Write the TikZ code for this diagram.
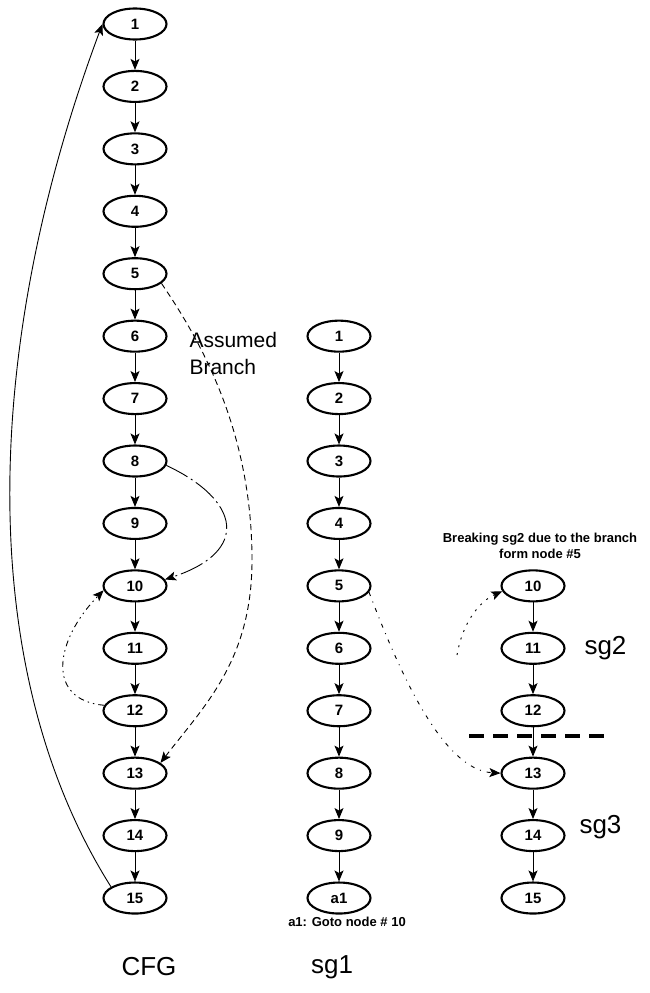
\documentclass[tikz,border=0pt]{standalone}
\usepackage{fontspec}
\setmainfont{Liberation Sans}
\usetikzlibrary{arrows.meta,shapes.geometric}
\begin{document}
\begin{tikzpicture}[x=1pt,y=-1pt,
  nd/.style={draw,ellipse,minimum width=63pt,minimum height=31pt,inner sep=0pt,
    line width=2.1pt,font=\fontsize{15pt}{15pt}\selectfont\bfseries},
  arr/.style={-{Stealth[length=11pt,width=9pt,inset=2.5pt]},line width=0.9pt},
  bigl/.style={font=\fontsize{26pt}{28pt}\selectfont},
  smalll/.style={font=\fontsize{13pt}{16pt}\selectfont\bfseries,align=center}]
\useasboundingbox (0,0) rectangle (650,993);
% CFG column
\foreach \i in {1,...,15}{
  \node[nd] (c\i) at (135,{24+62.43*(\i-1)}) {\i};
}
% sg1 column
\foreach \i in {1,...,9}{
  \node[nd] (s\i) at (339,{24+62.43*(\i+4)}) {\i};
}
\node[nd] (sa1) at (339,{24+62.43*14}) {a1};
% sg2 / sg3 column
\foreach \i in {10,...,15}{
  \node[nd] (t\i) at (533,{24+62.43*(\i-1)}) {\i};
}
% straight edges
\foreach \i [evaluate=\i as \j using int(\i+1)] in {1,...,14}{
  \draw[arr] (c\i) -- (c\j);
}
\foreach \i [evaluate=\i as \j using int(\i+1)] in {1,...,8}{
  \draw[arr] (s\i) -- (s\j);
}
\draw[arr] (s9) -- (sa1);
\foreach \i [evaluate=\i as \j using int(\i+1)] in {10,...,14}{
  \draw[arr] (t\i) -- (t\j);
}
% back edge 15 -> 1
\draw[arr] (c15.155) .. controls (-32,660) and (-12,330) .. (c1.west);
% assumed branch 5 -> 13
\draw[arr,dash pattern=on 6pt off 4pt] (c5.-20) .. controls (200,340) and (252,430) .. (252,560)
  .. controls (252,660) and (205,705) .. (c13.22);
% 8 -> 10
\draw[arr,dash pattern=on 24pt off 4pt on 2pt off 4pt] (c8.-8) .. controls (240,500) and (251,551) .. (c10.12);
% 12 -> 10
\draw[arr,dash pattern=on 6pt off 4pt on 1.5pt off 4pt on 1.5pt off 4pt] (c12.170) .. controls (45,700) and (55,640) .. (c10.188);
% sg1 5 -> sg2 13
\draw[arr,dash pattern=on 4pt off 6pt on 1pt off 6pt] (s5.-12) .. controls (395,660) and (440,770) .. (t13.west);
% dotted arc to sg2 10
\coordinate (d0) at (457,655);
\draw[arr,dash pattern=on 2pt off 6pt] (d0) .. controls (462,625) and (478,602) .. (t10.190);
% breaking line
\draw[line width=3.5pt,dash pattern=on 15pt off 9pt] (469,736) -- (608,736);
% labels
\node[anchor=west,align=left,font=\fontsize{21pt}{27pt}\selectfont] (lab) at (186,353) {Assumed\\Branch};
\node[bigl] (lcfg) at (149,967) {CFG};
\node[bigl] (lsg1) at (332,967) {sg1};
\node[bigl,anchor=west] (lsg2) at (581,648) {sg2};
\node[bigl,anchor=west] (lsg3) at (576,827) {sg3};
\node[smalll] (la1) at (347,922) {a1: Goto node \# 10};
\node[smalll] (lbr) at (540,546) {Breaking sg2 due to the branch\\form node \#5};
\end{tikzpicture}
\end{document}
